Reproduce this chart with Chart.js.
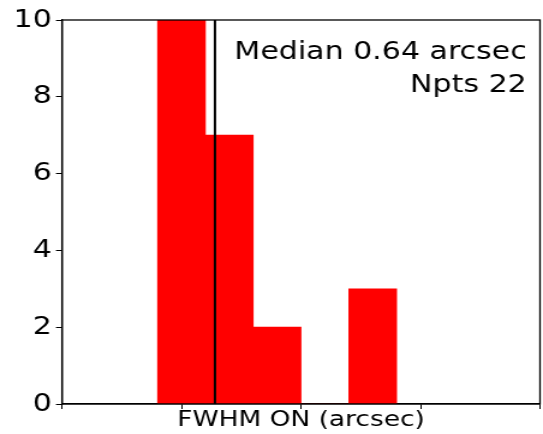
<!DOCTYPE html>
<html>
<head>
<meta charset="utf-8">
<script src="https://cdn.jsdelivr.net/npm/chart.js@4"></script>
<style>
  html, body { margin: 0; padding: 0; background: #fff; overflow: hidden; }
  /* la figure d'origine est étirée horizontalement (~1.2) */
  #wrap { width: 452px; height: 434px; transform: scaleX(1.2013); transform-origin: 0 0; }
</style>
</head>
<body>
<div id="wrap"><canvas id="histo"></canvas></div>
<script>
// centres des classes (arcsec) et effectifs
const binCentres = [0.5, 0.7, 0.9, 1.1, 1.3];
const counts = [10, 7, 2, 0, 3];
const medianValue = 0.64;
const nPts = 22;
const yTicks = [0, 2, 4, 6, 8, 10];
const xTicks = [0, 0.5, 1, 1.5, 2];

const FONT = 'DejaVu Sans';

// cadre + texte
const boxPlugin = {
    id: 'box',
    afterDraw(chart) {
        const { ctx, chartArea: a } = chart;
        ctx.save();
        ctx.strokeStyle = '#000';
        ctx.lineWidth = 1.3;
        ctx.strokeRect(a.left, a.top, a.right - a.left, a.bottom - a.top);
        ctx.fillStyle = '#000';
        ctx.font = '25px "' + FONT + '"';
        ctx.textAlign = 'right';
        ctx.textBaseline = 'alphabetic';
        ctx.fillText('Median ' + medianValue.toFixed(2) + ' arcsec', a.right - 11, 59);
        ctx.fillText('Npts ' + nPts, a.right - 11, 92);
        ctx.restore();
    }
};

new Chart(document.getElementById('histo'), {
    type: 'bar',
    data: {
        datasets: [
            {
                type: 'line',
                data: [{ x: medianValue, y: 0 }, { x: medianValue, y: 10 }],
                borderColor: '#000',
                borderWidth: 2,
                pointRadius: 0,
                fill: false
            },
            {
                data: binCentres.map((x, i) => ({ x: x, y: counts[i] })),
                backgroundColor: '#ff0000',
                borderWidth: 0,
                barPercentage: 1,
                categoryPercentage: 1
            }
        ]
    },
    plugins: [boxPlugin],
    options: {
        responsive: true,
        maintainAspectRatio: false,
        animation: false,
        layout: { padding: { top: 20, right: 2.5, left: 0, bottom: 0 } },
        plugins: { legend: { display: false }, tooltip: { enabled: false } },
        scales: {
            x: {
                type: 'linear',
                min: 0,
                max: 2,
                offset: false,
                afterBuildTicks: (s) => { s.ticks = xTicks.map(v => ({ value: v })); },
                ticks: { display: false },
                grid: { offset: false, drawOnChartArea: false, tickLength: 5, color: '#000', tickWidth: 1 },
                border: { color: '#000', width: 1.3 },
                title: {
                    display: true,
                    text: 'FWHM ON (arcsec)',
                    color: '#000',
                    font: { family: FONT, size: 22 },
                    padding: { top: 0, bottom: 1 }
                },
                afterFit: (s) => { s.height = 30; }
            },
            y: {
                min: 0,
                max: 10,
                afterBuildTicks: (s) => { s.ticks = yTicks.map(v => ({ value: v })); },
                ticks: { color: '#000', font: { family: FONT, size: 25 }, padding: 3.5 },
                grid: { drawOnChartArea: false, tickLength: 5, color: '#000', tickWidth: 1 },
                border: { color: '#000', width: 1.3 },
                afterFit: (s) => { s.width = 51.6; }
            }
        }
    }
});
</script>
</body>
</html>
